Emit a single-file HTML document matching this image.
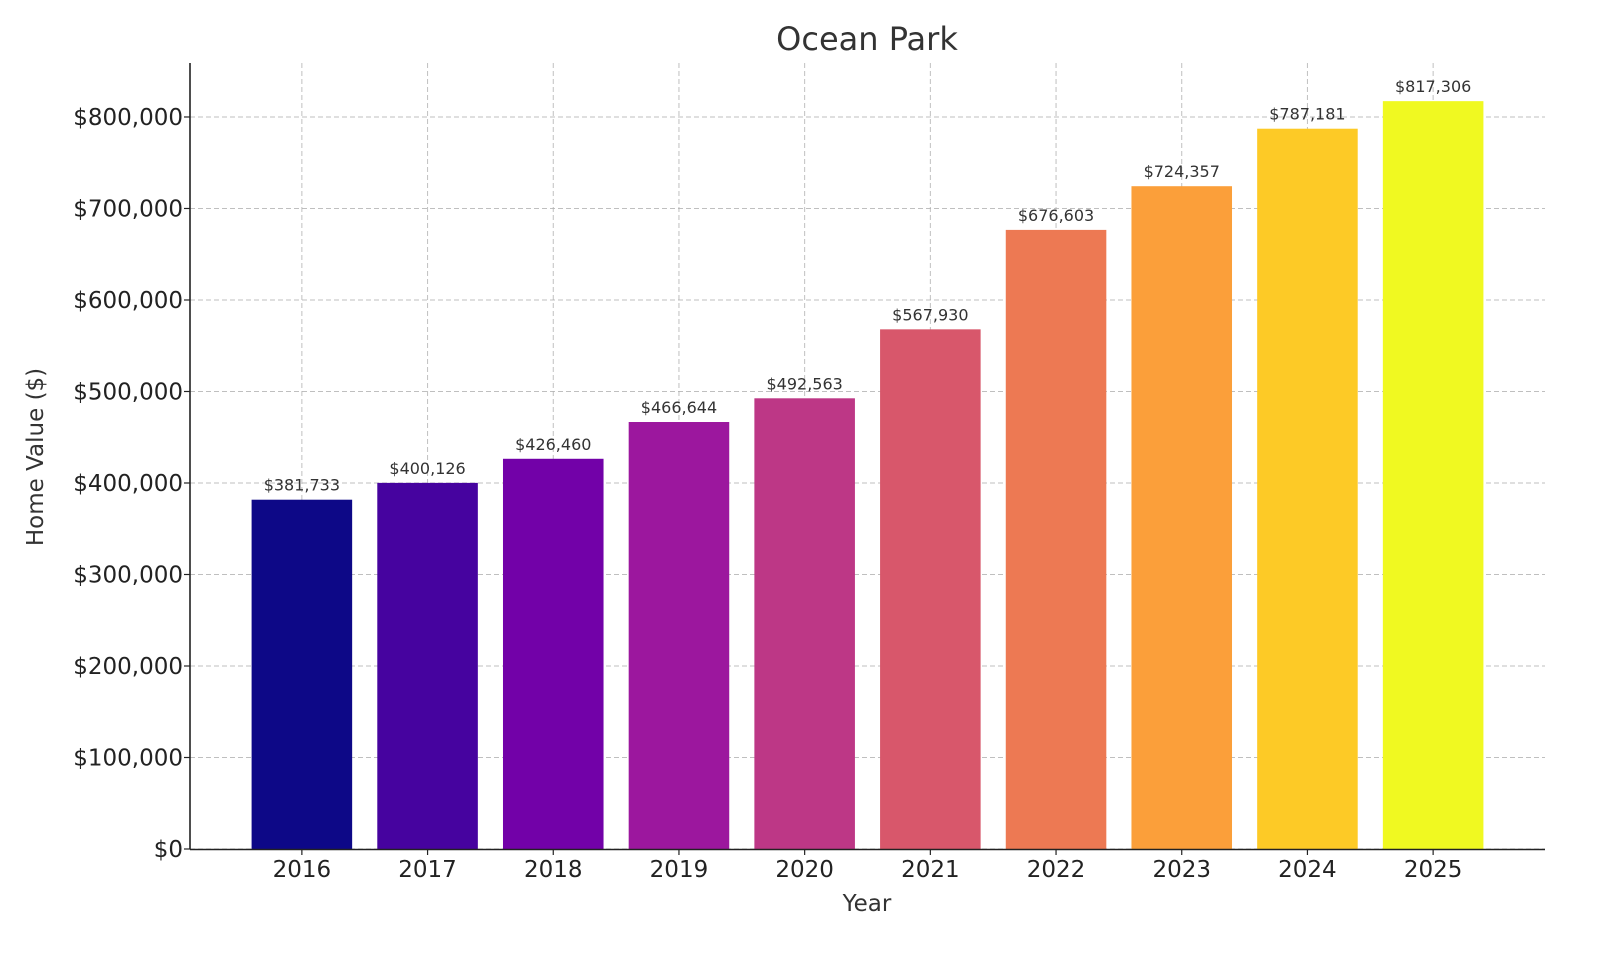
<!DOCTYPE html>
<html><head><meta charset="utf-8"><style>
html,body{margin:0;padding:0;background:#fff;}
svg{display:block;font-family:"DejaVu Sans","Liberation Sans",sans-serif;}
</style></head><body>
<svg id="chart" width="1600" height="960" viewBox="0 0 1600 960">
<text x="867" y="50" text-anchor="middle" font-size="32" fill="#333">Ocean Park</text>
<g id="grid"></g><g id="bars"></g><g id="labels"></g><g id="ticks"></g>
<line x1="190" y1="63" x2="190" y2="849.5" stroke="#222" stroke-width="1.6"/>
<line x1="190" y1="849.5" x2="1545" y2="849.5" stroke="#222" stroke-width="1.6"/>
<text x="867" y="911" text-anchor="middle" font-size="23" fill="#333">Year</text>
<text transform="translate(43,457) rotate(-90)" text-anchor="middle" font-size="23" fill="#333">Home Value ($)</text>
</svg>
<script>
const years=["2016","2017","2018","2019","2020","2021","2022","2023","2024","2025"];
const values=[381733,400126,426460,466644,492563,567930,676603,724357,787181,817306];
const colors=["#0d0887","#46039f","#7201a8","#9c179e","#bd3786","#d8576b","#ed7953","#fb9f3a","#fdca26","#f0f921"];
const yTicks=[0,100000,200000,300000,400000,500000,600000,700000,800000];
const NS="http://www.w3.org/2000/svg";
const x0=190,x1=1545,yb=849,yt=63;
const xmin=-0.89,xmax=years.length-1+0.89;
const ymax=859000;
function xs(i){return x0+(i-xmin)/(xmax-xmin)*(x1-x0);}
function ys(v){return yb-v/ymax*(yb-yt);}
function fmt(v){return "$"+v.toLocaleString("en-US");}
function mk(tag,attrs,parent){const e=document.createElementNS(NS,tag);for(const k in attrs)e.setAttribute(k,attrs[k]);document.getElementById(parent).appendChild(e);return e;}
const bw=(xs(1)-xs(0))*0.8;
years.forEach((y,i)=>{
  const r=mk("rect",{x:xs(i)-bw/2,y:ys(values[i]),width:bw,height:yb-ys(values[i]),fill:colors[i]},"bars");
  
  
  const t=mk("text",{x:xs(i),y:ys(values[i])-9,"text-anchor":"middle","font-size":"16",fill:"#333"},"labels");
  t.textContent=fmt(values[i]);
  
  
  const g=mk("line",{x1:xs(i),x2:xs(i),y1:yt,y2:yb,stroke:"#b0b0b0","stroke-width":1,"stroke-dasharray":"5,3",opacity:0.8},"grid");
  
  
  const tk=mk("line",{x1:xs(i),x2:xs(i),y1:yb,y2:yb+6,stroke:"#222","stroke-width":1.2},"ticks");
  
  
  const tl=mk("text",{x:xs(i),y:yb+28,"text-anchor":"middle","font-size":"23",fill:"#222"},"ticks");
  tl.textContent=y;
  
  
});
yTicks.forEach(v=>{
  const g=mk("line",{x1:x0,x2:x1,y1:ys(v),y2:ys(v),stroke:"#b0b0b0","stroke-width":1,"stroke-dasharray":"5,3",opacity:0.8},"grid");
  
  
  const tk=mk("line",{x1:x0-6,x2:x0,y1:ys(v),y2:ys(v),stroke:"#222","stroke-width":1.2},"ticks");
  
  
  const tl=mk("text",{x:x0-7,y:ys(v)+8,"text-anchor":"end","font-size":"23",fill:"#222"},"ticks");
  tl.textContent=fmt(v);
  
  
});
</script>
</body></html>
